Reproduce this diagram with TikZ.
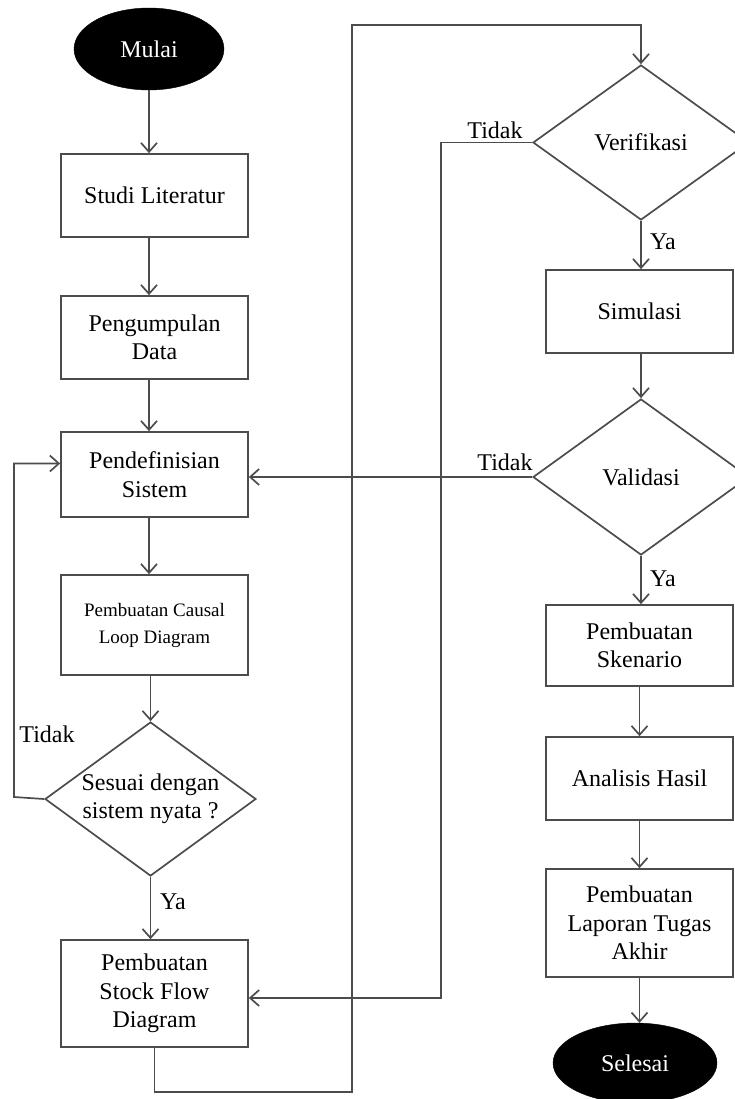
\documentclass[tikz,border=0pt]{standalone}
\usepackage{fontspec}
\setmainfont{Liberation Serif}
\usetikzlibrary{shapes.geometric,arrows.meta,calc}
\definecolor{ln}{gray}{0.3}
\tikzset{
  box/.style={draw=ln, line width=1.7pt, rectangle, minimum width=187pt, align=center, font=\fontsize{24}{28.5}\selectfont, inner sep=2pt},
  dec/.style={draw=ln, line width=1.7pt, diamond, aspect=1.4, inner sep=0pt, align=center, font=\fontsize{24}{28.5}\selectfont},
  term/.style={ellipse, fill=black, draw=black, text=white, inner sep=0pt, font=\fontsize{24}{28.5}\selectfont},
  arr/.style={draw=ln, line width=1.7pt, -{Straight Barb[length=9pt,width=16pt,line width=1.7pt]}},
  lbl/.style={font=\fontsize{24}{28.5}\selectfont, inner sep=0pt}
}
\begin{document}
\begin{tikzpicture}[x=1pt,y=-1pt]
\useasboundingbox (0,0) rectangle (735,1099);
% left column
\node[term, minimum width=150pt, minimum height=82pt] (mulai) at (149,49) {Mulai};
\node[box, minimum height=83pt] (studi) at (154.5,195.5) {Studi Literatur};
\node[box, minimum height=83pt] (kumpul) at (154.5,337.5) {Pengumpulan\\Data};
\node[box, minimum height=85pt] (definisi) at (154.5,474.5) {Pendefinisian\\Sistem};
\node[box, minimum height=100pt, font=\fontsize{19}{27}\selectfont] (cld) at (154.5,625) {Pembuatan Causal\\Loop Diagram};
\node[dec, minimum width=211pt, minimum height=154pt] (sesuai) at (150.5,799) {Sesuai dengan\\sistem nyata ?};
\node[box, minimum height=107pt] (stock) at (154.5,993.5) {Pembuatan\\Stock Flow\\Diagram};
% right column
\node[dec, minimum width=216pt, minimum height=155pt] (verif) at (641,142.5) {Verifikasi};
\node[box, minimum height=83pt] (simulasi) at (639.5,311.5) {Simulasi};
\node[dec, minimum width=216pt, minimum height=156pt] (validasi) at (641,477) {Validasi};
\node[box, minimum height=81pt] (skenario) at (639.5,645.5) {Pembuatan\\Skenario};
\node[box, minimum height=83pt] (analisis) at (639.5,778.5) {Analisis Hasil};
\node[box, minimum height=108pt] (laporan) at (639.5,923) {Pembuatan\\Laporan Tugas\\Akhir};
\node[term, minimum width=164pt, minimum height=80pt] (selesai) at (635,1063) {Selesai};
% coordinates
\coordinate (lx) at (149,0);
\coordinate (loop) at (14,797);
\coordinate (b1) at (352,1092);
\coordinate (b2) at (352,25);
\coordinate (vx) at (441,998);
% connectors left
\draw[arr] (mulai.south) -- (mulai.south |- studi.north);
\draw[arr] (studi.south -| lx) -- (kumpul.north -| lx);
\draw[arr] (kumpul.south -| lx) -- (definisi.north -| lx);
\draw[arr] (definisi.south -| lx) -- (cld.north -| lx);
\draw[arr] (cld.south -| sesuai) -- (sesuai.north);
\draw[arr] (sesuai.south) -- (sesuai.south |- stock.north);
\draw[arr] (sesuai.west) -- (loop) |- ($(definisi.west)+(0,-11)$);
\draw[arr] (stock.south) |- (b1) -- (b2) -| (verif.north);
% connectors right
\draw[arr] (verif.west) -| (vx) -- (vx -| stock.east);
\draw[arr] (verif.south) -- (verif.south |- simulasi.north);
\draw[arr] (simulasi.south -| validasi) -- (validasi.north);
\draw[arr] (validasi.west) -- (validasi.west -| definisi.east);
\draw[arr] (validasi.south) -- (validasi.south |- skenario.north);
\draw[arr] (skenario.south) -- (analisis.north);
\draw[arr] (analisis.south) -- (laporan.north);
\draw[arr] (laporan.south) -- (laporan.south |- selesai.north);
% labels
\node[lbl] (t1) at (47,734) {Tidak};
\node[lbl] (y1) at (173,902) {Ya};
\node[lbl] (t2) at (495,130) {Tidak};
\node[lbl] (y2) at (663,242) {Ya};
\node[lbl] (t3) at (505,462) {Tidak};
\node[lbl] (y3) at (663,579) {Ya};
\end{tikzpicture}
\end{document}
